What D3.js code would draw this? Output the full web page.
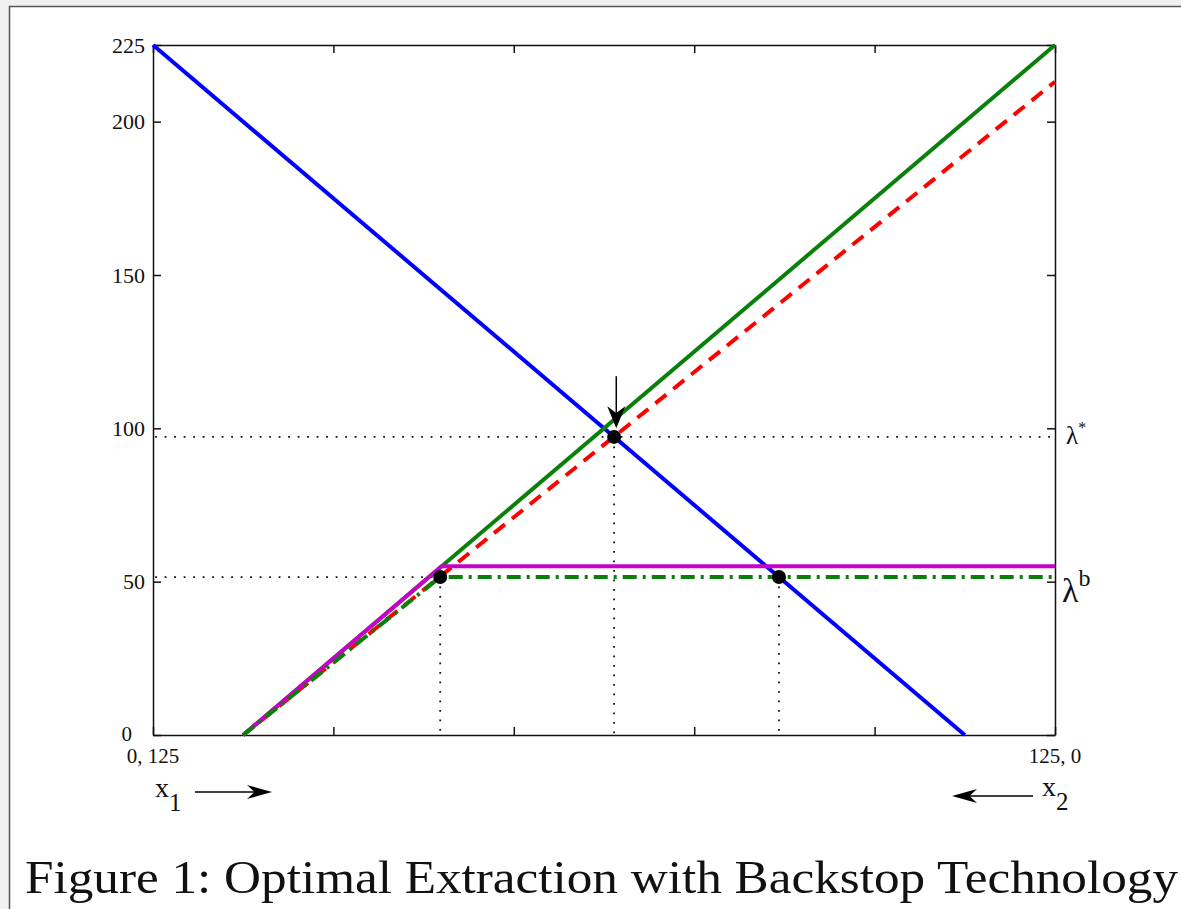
<!DOCTYPE html>
<html>
<head>
<meta charset="utf-8">
<script src="https://cdn.jsdelivr.net/npm/d3@7"></script>
<style>
  body { margin: 0; background: #f0f0f0; }
  text { font-family: "Liberation Serif", "Times New Roman", serif; fill: #111; }
</style>
</head>
<body>
<div id="chart"></div>
<script>
/* D3 backstop technology figure */

const width = 1181,
    height = 909,
    margin = ({top: 45, right: 126, bottom: 174, left: 153});

// data
const xDomain = [0, 125];
const yDomain = [0, 225];
const xTicks = [0, 25, 50, 75, 100, 125];
const yTicks = [0, 50, 100, 150, 200, 225];
const xTickLabels = ["0, 125", "125, 0"];

const demandLine = [[0, 225], [112.5, 0]];            // blue
const costLine = [[12.5, 0], [125, 225]];             // green solid
const redLine = [[12.5, 0], [125, 213]];              // red dashed
const backstopLine = [[12.5, 0], [40, 55], [125, 55]];        // magenta
const backstopDash = [[12.5, 0], [39.8, 51.5], [125, 51.5]];  // green dash-dot

const lambdaStar = 97.2,
    lambdaB = 51.5;
const points = [[39.8, 51.5], [63.9, lambdaStar], [86.75, 51.5]];
const arrowX = 64.2,
    arrowFrom = 117,
    arrowTo = 100;

const svg = d3.select("#chart")
    .append("svg")
    .attr("width", width)
    .attr("height", height);

// page frame
svg.append("rect")
    .attr("width", width).attr("height", height)
    .attr("fill", "#f0f0f0");
svg.append("rect")
    .attr("x", 9.5).attr("y", 6.5)
    .attr("width", width + 20).attr("height", height + 20)
    .attr("fill", "white")
    .attr("stroke", "#555")
    .attr("stroke-width", 1.5);

let x = d3.scaleLinear()
    .domain(xDomain)
    .range([margin.left, width - margin.right]);

let y = d3.scaleLinear()
    .domain(yDomain)
    .range([height - margin.bottom, margin.top]);

const axisStyle = g => {
    g.select(".domain").attr("stroke", "#111").attr("stroke-width", 1.5);
    g.selectAll(".tick line").attr("stroke", "#111").attr("stroke-width", 1.5);
    g.selectAll("text").attr("font-size", 22).attr("fill", "#111")
        .attr("font-family", "Liberation Serif, serif");
};

// left axis with labels, ticks pointing in
svg.append("g")
    .attr("transform", `translate(${margin.left},0)`)
    .call(d3.axisLeft(y).tickValues(yTicks).tickSize(-8).tickSizeOuter(0).tickPadding(8))
    .call(axisStyle)
    .call(g => g.selectAll(".tick").filter(d => d === 0).select("text")
        .attr("dx", -13).attr("dy", "0.25em").attr("font-size", 21));

// right axis
svg.append("g")
    .attr("transform", `translate(${width - margin.right},0)`)
    .call(d3.axisRight(y).tickValues(yTicks).tickSize(-8).tickSizeOuter(0).tickFormat(""))
    .call(axisStyle);

// bottom axis
svg.append("g")
    .attr("transform", `translate(0,${height - margin.bottom})`)
    .call(d3.axisBottom(x).tickValues(xTicks).tickSize(-8).tickSizeOuter(0).tickFormat(""))
    .call(axisStyle);

// top axis
svg.append("g")
    .attr("transform", `translate(0,${margin.top})`)
    .call(d3.axisTop(x).tickValues(xTicks).tickSize(-8).tickSizeOuter(0).tickFormat(""))
    .call(axisStyle);

// x end labels
svg.selectAll(".x-end")
    .data([xDomain[0], xDomain[1]])
    .join("text")
    .attr("class", "x-end")
    .attr("x", d => x(d))
    .attr("y", height - margin.bottom + 28)
    .attr("text-anchor", "middle")
    .attr("font-size", 21)
    .text((d, i) => xTickLabels[i]);

let line = d3.line()
    .x(d => x(d[0]))
    .y(d => y(d[1]));

// dotted guides
const guide = (pts) => svg.append("path")
    .attr("d", line(pts))
    .attr("fill", "none")
    .attr("stroke", "#111")
    .attr("stroke-width", 1.8)
    .attr("stroke-dasharray", "1.8,7.7");

guide([[0.3, lambdaStar], [124.5, lambdaStar]]);
guide([[0.3, lambdaB], [points[0][0], lambdaB]]);
for (let p of points) guide([[p[0], p[1]], [p[0], 0]]);

const drawLine = (pts, color, dash) => svg.append("path")
    .attr("d", line(pts))
    .attr("fill", "none")
    .attr("stroke", color)
    .attr("stroke-width", 4)
    .attr("stroke-linejoin", "round")
    .attr("stroke-dasharray", dash);

drawLine(demandLine, "#0000ff", null);
drawLine(costLine, "#0a800a", null);
drawLine(redLine, "#ff0000", "14,9");
drawLine(backstopLine, "#c800c8", null);
drawLine(backstopDash, "#0a800a", "14,6,3,6");

// equilibrium points
svg.selectAll(".pt")
    .data(points)
    .join("circle")
    .attr("class", "pt")
    .attr("cx", d => x(d[0]))
    .attr("cy", d => y(d[1]))
    .attr("r", 7)
    .attr("fill", "#000");

// arrowheads
const head = (tipX, tipY, dx, dy, len, half) => {
    // dx,dy unit direction of the arrow
    const bx = tipX - dx * len, by = tipY - dy * len;
    const nx = -dy, ny = dx;
    const mx = tipX - dx * len * 0.7, my = tipY - dy * len * 0.7;
    return `M${tipX},${tipY}L${bx + nx * half},${by + ny * half}L${mx},${my}L${bx - nx * half},${by - ny * half}Z`;
};

// down arrow at lambda*
svg.append("line")
    .attr("x1", x(arrowX)).attr("x2", x(arrowX))
    .attr("y1", y(arrowFrom)).attr("y2", y(arrowTo) - 8)
    .attr("stroke", "#000").attr("stroke-width", 1.5);
svg.append("path")
    .attr("d", head(x(arrowX), y(arrowTo), 0, 1, 22, 9))
    .attr("fill", "#000");

// lambda labels
svg.append("text")
    .attr("x", x(125) + 11)
    .attr("y", y(lambdaStar) + 7)
    .attr("font-size", 25)
    .html('λ<tspan dy="-11" font-size="16">*</tspan>');

svg.append("text")
    .attr("x", x(125) + 7)
    .attr("y", y(lambdaB) + 25)
    .attr("font-size", 34)
    .html('λ<tspan dy="-16" font-size="24">b</tspan>');

// x1 / x2 direction labels
const dirY = height - margin.bottom + 60;
svg.append("text")
    .attr("x", 155).attr("y", dirY + 2)
    .attr("font-size", 28)
    .html('x<tspan dy="14" font-size="25">1</tspan>');
svg.append("line")
    .attr("x1", 195).attr("x2", 258)
    .attr("y1", dirY - 3).attr("y2", dirY - 3)
    .attr("stroke", "#000").attr("stroke-width", 1.5);
svg.append("path")
    .attr("d", head(272, dirY - 3, 1, 0, 25, 7))
    .attr("fill", "#000");

svg.append("text")
    .attr("x", 1042).attr("y", dirY + 1)
    .attr("font-size", 28)
    .html('x<tspan dy="14" font-size="25">2</tspan>');
svg.append("line")
    .attr("x1", 1033).attr("x2", 966)
    .attr("y1", dirY + 1).attr("y2", dirY + 1)
    .attr("stroke", "#000").attr("stroke-width", 1.5);
svg.append("path")
    .attr("d", head(952, dirY + 1, -1, 0, 25, 7))
    .attr("fill", "#000");

// caption
svg.append("text")
    .attr("x", 25)
    .attr("y", 893)
    .attr("font-size", 46)
    .attr("textLength", 1153)
    .attr("lengthAdjust", "spacingAndGlyphs")
    .text("Figure 1: Optimal Extraction with Backstop Technology");
</script>
</body>
</html>
